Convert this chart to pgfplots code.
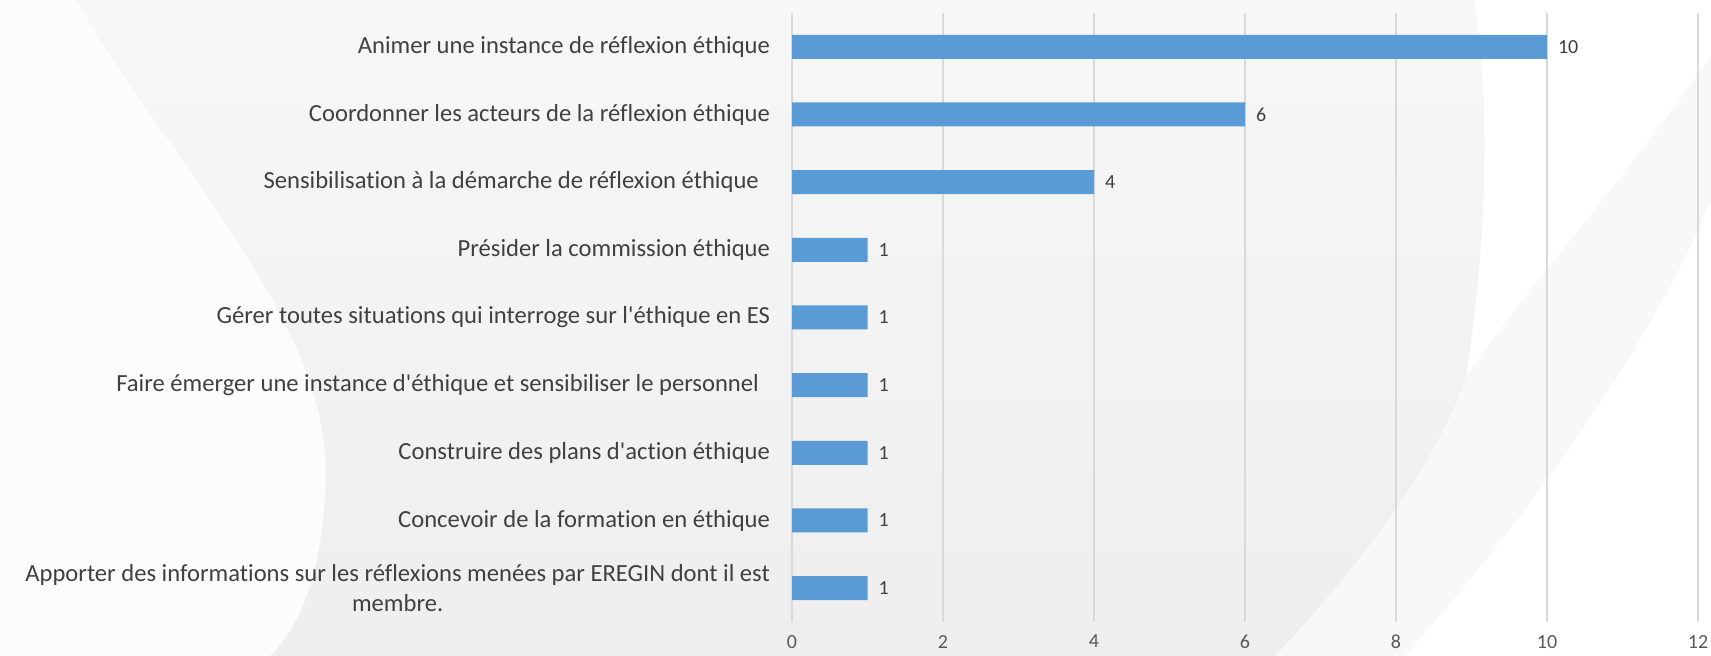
\documentclass[border=0pt]{standalone}
\usepackage{pgfplots}
\pgfplotsset{compat=1.18}
\usepackage{fontspec}
\setmainfont{Carlito}[Ligatures={TeX,NoCommon}]
\definecolor{barblue}{HTML}{5B9BD5}
\definecolor{txt}{HTML}{404040}
\definecolor{ticktxt}{HTML}{595959}
\definecolor{gridc}{HTML}{D9D9D9}
\definecolor{bgtop}{HTML}{F7F7F7}
\definecolor{bgbot}{HTML}{EEEEEE}
\definecolor{band}{HTML}{F8F8F8}
\begin{document}
\begin{tikzpicture}[x=0.5pt,y=0.5pt]
\useasboundingbox (0,0) rectangle (1711,656);
% background (decorative)
\shade[top color=bgtop, bottom color=bgbot] (0,0) rectangle (1711,656);
\fill[white!60!bgtop] (0,656) -- (76,656) .. controls (180,480) and (330,330) .. (326,176) .. controls (322,80) and (300,30) .. (270,0) -- (0,0) -- cycle;
\fill[white] (1474,656) .. controls (1490,560) and (1488,420) .. (1466,279) .. controls (1440,200) and (1370,100) .. (1275,0) -- (1711,0) -- (1711,656) -- cycle;
\fill[band] (1275,0) -- (1404,0) .. controls (1540,150) and (1660,330) .. (1711,456) -- (1711,600) .. controls (1620,470) and (1520,360) .. (1466,279) .. controls (1440,200) and (1370,100) .. (1275,0) -- cycle;
\begin{axis}[
  at={(396pt,17pt)}, anchor=south west,
  scale only axis, width=453pt, height=304.5pt,
  xbar, bar width=12pt,
  xmin=0, xmax=12, ymin=-0.5, ymax=8.5,
  xtick={0,2,...,12},
  ytick={0,...,8},
  yticklabels={{Apporter des informations sur les réflexions menées par EREGIN dont il est\\membre.},
    {Concevoir de la formation en éthique},
    {Construire des plans d\textquotesingle action éthique},
    {Faire émerger une instance d\textquotesingle éthique et sensibiliser le personnel\ \ },
    {Gérer toutes situations qui interroge sur l\textquotesingle éthique en ES},
    {Présider la commission éthique},
    {Sensibilisation à la démarche de réflexion éthique\ \ },
    {Coordonner les acteurs de la réflexion éthique},
    {Animer une instance de réflexion éthique}},
  axis line style={draw=none},
  major tick length=0pt,
  xmajorgrids, grid style={gridc, line width=1.2pt},
  /pgf/number format/assume math mode=true,
  xticklabel style={font=\fontsize{10}{12}\selectfont, text=ticktxt, yshift=-3pt},
  yticklabel style={font=\fontsize{12.3}{15}\selectfont, text=txt, align=center, xshift=-7.5pt},
  nodes near coords,
  nodes near coords style={font=\fontsize{10}{12}\selectfont, text=txt, xshift=2pt},
  clip=false,
]
\addplot[fill=barblue, draw=none] coordinates {(1,0) (1,1) (1,2) (1,3) (1,4) (1,5) (4,6) (6,7) (10,8)};
\end{axis}
\end{tikzpicture}
\end{document}
